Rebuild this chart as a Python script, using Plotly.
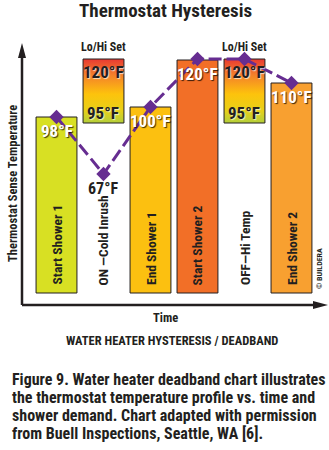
import plotly.graph_objects as go

# ---------------- data ----------------
categories = ["Start Shower 1", "ON —Cold Inrush", "End Shower 1",
              "Start Shower 2", "OFF—Hi Temp", "End Shower 2"]
x_pos = [0, 1, 2, 3, 4, 5]

# solid bars (shower events)
bar_idx = [0, 2, 3, 5]
bar_top = [188, 198, 245, 222]
bar_base = 12
bar_colors = ["#d8e023", "#fcc010", "#f26f27", "#f8a030"]
bar_labels = ["98°F", "100°F", "120°F", "110°F"]

# floating Lo/Hi thermostat set-point boxes
set_idx = [1, 4]
set_lo = [182, 182]
set_hi = [246, 246]
set_hi_labels = ["120°F", "120°F"]
set_lo_labels = ["95°F", "95°F"]

# thermostat sense temperature profile
line_y = [188, 131, 198, 246, 246, 222]
dip_idx = 1
dip_label = "67°F"

title_text = "Thermostat Hysteresis"
y_title = "Thermostat Sense Temperature"
x_title = "Time"
sub_title = "WATER HEATER HYSTERESIS / DEADBAND"
caption_lines = [
    "Figure 9. Water heater deadband chart illustrates",
    "the thermostat temperature profile vs. time and",
    "shower demand. Chart adapted with permission",
    "from Buell Inspections, Seattle, WA [6].",
]
credit = "© BUILDERA"

# ---------------- style ----------------
FONT = "Roboto Condensed, Open Sans Condensed, DejaVu Sans Condensed, sans-serif"
DARK = "#231f20"
PURPLE = "#662d91"
BW = 0.87

W, H = 329, 450
ML, MR, MT, MB = 22, 1, 43, 145
X_RANGE = [-0.734, 5.777]
Y_RANGE = [0, 262]

fig = go.Figure()

# solid bars
fig.add_trace(go.Bar(
    x=bar_idx,
    y=[t - bar_base for t in bar_top],
    base=bar_base,
    width=BW,
    marker=dict(color=bar_colors, line=dict(color=DARK, width=1)),
    hoverinfo="skip",
    showlegend=False,
))

# gradient set-point boxes
grad_scale = [[0.0, "#b3cf3b"], [0.2, "#e8d018"], [0.45, "#fdc30c"],
              [0.75, "#f4812a"], [1.0, "#e83a32"]]
for i, lo, hi in zip(set_idx, set_lo, set_hi):
    xs = [i - BW / 2, i + BW / 2, i + BW / 2, i - BW / 2, i - BW / 2]
    ys = [lo, lo, hi, hi, lo]
    fig.add_trace(go.Scatter(
        x=xs, y=ys, mode="lines", fill="toself",
        fillgradient=dict(type="vertical", colorscale=grad_scale),
        line=dict(color=DARK, width=1),
        hoverinfo="skip", showlegend=False,
    ))

# temperature profile line
fig.add_trace(go.Scatter(
    x=x_pos, y=line_y, mode="lines+markers",
    line=dict(color=PURPLE, width=3, dash="13px,5px"),
    marker=dict(symbol="diamond", size=11, color=PURPLE),
    hoverinfo="skip", showlegend=False,
))

ann = []
white_shadow = "1px 1px 1px rgba(0,0,0,0.75)"
light_shadow = "1px 1px 1px rgba(255,255,255,0.7)"

for i, t, lab in zip(bar_idx, bar_top, bar_labels):
    ann.append(dict(x=i, y=t, text=lab, showarrow=False, yanchor="middle",
                    yshift=-14,
                    font=dict(family=FONT, size=17, color="white",
                              weight="bold", shadow=white_shadow)))

for i, lo, hi, hl, ll in zip(set_idx, set_lo, set_hi, set_hi_labels, set_lo_labels):
    ann.append(dict(x=i, y=hi, text=hl, showarrow=False, yanchor="middle",
                    yshift=-13,
                    font=dict(family=FONT, size=17, color=DARK,
                              weight="bold", shadow=light_shadow)))
    ann.append(dict(x=i, y=lo, text=ll, showarrow=False, yanchor="middle",
                    yshift=10,
                    font=dict(family=FONT, size=17, color=DARK,
                              weight="bold", shadow=light_shadow)))
    ann.append(dict(x=i, y=hi, text="Lo/Hi Set", showarrow=False,
                    yanchor="middle", yshift=12,
                    font=dict(family=FONT, size=12, color=DARK, weight="bold")))

ann.append(dict(x=dip_idx, y=line_y[dip_idx], text=dip_label, showarrow=False,
                yanchor="middle", yshift=-14,
                font=dict(family=FONT, size=16, color=DARK, weight="bold")))

for i, c in zip(x_pos, categories):
    ann.append(dict(x=i, y=bar_base, text=c, showarrow=False, textangle=-90,
                    yanchor="bottom", yshift=6,
                    font=dict(family=FONT, size=13.5, color=DARK, weight="bold")))

# titles and captions (paper coordinates)
def py(pix):
    return (H - MB - pix)

ann.append(dict(xref="paper", yref="paper", x=0, y=0, xshift=165 - ML,
                yshift=py(10), text=title_text, showarrow=False,
                xanchor="center", yanchor="middle",
                font=dict(family=FONT, size=19, color=DARK, weight="bold")))
ann.append(dict(xref="paper", yref="paper", x=0, y=0, xshift=-10,
                yshift=py(184), text=y_title, showarrow=False, textangle=-90,
                xanchor="center", yanchor="middle",
                font=dict(family=FONT, size=12.5, color=DARK, weight="bold")))
ann.append(dict(xref="paper", yref="paper", x=0, y=0, xshift=165 - ML,
                yshift=py(317), text=x_title, showarrow=False,
                xanchor="center", yanchor="middle",
                font=dict(family=FONT, size=12.5, color=DARK, weight="bold")))
ann.append(dict(xref="paper", yref="paper", x=0, y=0, xshift=172 - ML,
                yshift=py(340), text=sub_title, showarrow=False,
                xanchor="center", yanchor="middle",
                font=dict(family=FONT, size=12.5, color=DARK, weight="bold")))
ann.append(dict(xref="paper", yref="paper", x=0, y=0, xshift=319 - ML,
                yshift=py(269), text=credit, showarrow=False, textangle=-90,
                xanchor="center", yanchor="middle",
                font=dict(family=FONT, size=8, color=DARK, weight="bold")))
for k, line in enumerate(caption_lines):
    ann.append(dict(xref="paper", yref="paper", x=0, y=0, xshift=10 - ML,
                    yshift=py(379 + 18 * k), text=line, showarrow=False,
                    xanchor="left", yanchor="middle",
                    font=dict(family=FONT, size=16, color=DARK, weight="bold")))

# axis arrows
shapes = [
    dict(type="line", xref="paper", yref="paper", x0=0, x1=0, y0=0, y1=0.96,
         line=dict(color=DARK, width=2.5)),
    dict(type="line", xref="paper", yref="paper", x0=0, x1=0.96, y0=0, y1=0,
         line=dict(color=DARK, width=2.5)),
    dict(type="path", xref="paper", yref="paper", xsizemode="pixel",
         ysizemode="pixel", xanchor=0, yanchor=1,
         path="M -4 -15 L 4 -15 L 0 0 Z", fillcolor=DARK, line=dict(width=0)),
    dict(type="path", xref="paper", yref="paper", xsizemode="pixel",
         ysizemode="pixel", xanchor=1, yanchor=0,
         path="M -15 -4 L -15 4 L 0 0 Z", fillcolor=DARK, line=dict(width=0)),
]

fig.update_layout(
    width=W, height=H,
    margin=dict(l=ML, r=MR, t=MT, b=MB, pad=0),
    paper_bgcolor="white", plot_bgcolor="white",
    xaxis=dict(range=X_RANGE, visible=False, fixedrange=True),
    yaxis=dict(range=Y_RANGE, visible=False, fixedrange=True),
    annotations=ann, shapes=shapes,
    barmode="overlay", showlegend=False,
)

fig.write_html("out.html", config={"displayModeBar": False})
